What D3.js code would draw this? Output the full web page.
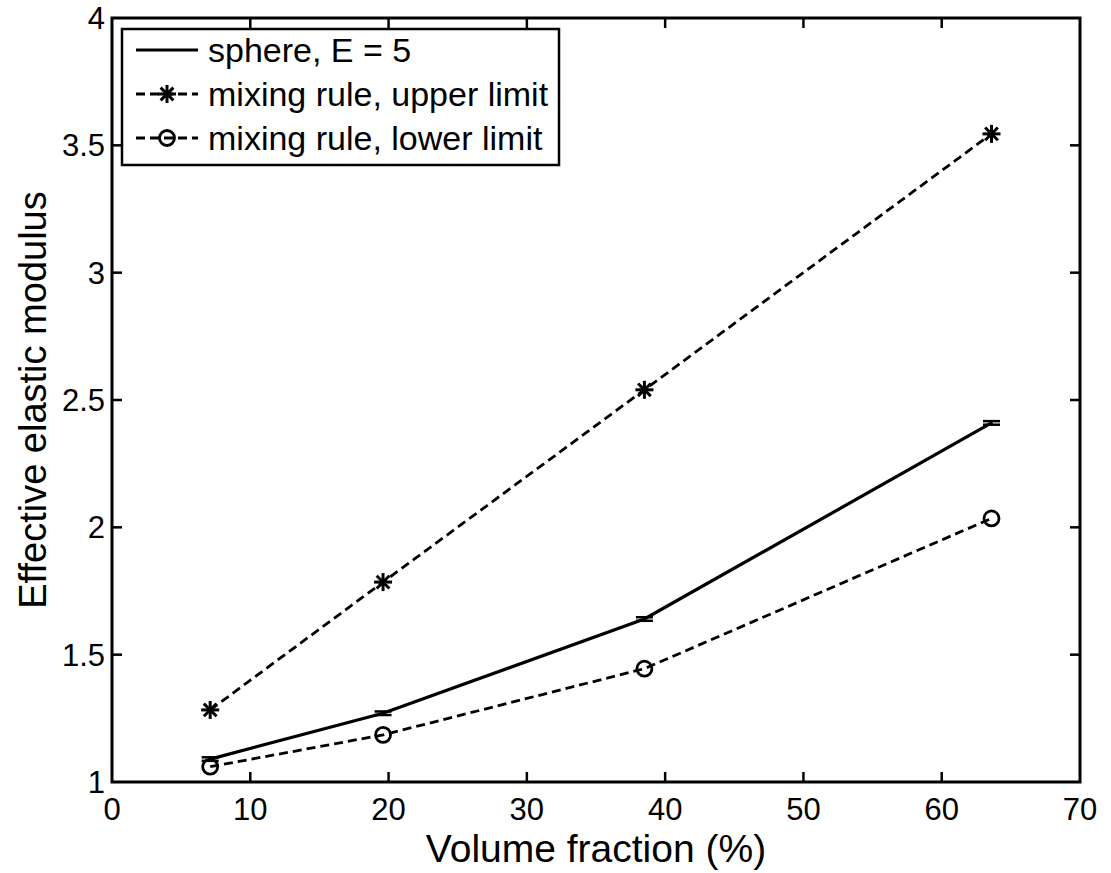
<!DOCTYPE html>
<html>
<head>
<meta charset="utf-8">
<script src="https://cdn.jsdelivr.net/npm/d3@7"></script>
<style>
  body { margin: 0; background: #fff; }
  text { font-family: "Liberation Sans", Arial, sans-serif; fill: #000; }
</style>
</head>
<body>
<svg id="chart" width="1111" height="873"></svg>
<script>
// Data
const volFrac = [7.1, 19.6, 38.5, 63.6];
const sphere = [1.09, 1.27, 1.64, 2.41];
const sphereErr = [0.007, 0.007, 0.007, 0.007];
const upper = [1.283, 1.785, 2.54, 3.545];
const lower = [1.06, 1.185, 1.445, 2.035];
const xTicks = [0, 10, 20, 30, 40, 50, 60, 70];
const yTicks = [1, 1.5, 2, 2.5, 3, 3.5, 4];
const legendLabels = ['sphere, E = 5', 'mixing rule, upper limit', 'mixing rule, lower limit'];

const svg = d3.select('#chart');
const pLeft = 112, pRight = 1080, pTop = 18, pBottom = 782;

const x = d3.scaleLinear().domain([0, 70]).range([pLeft, pRight]);
const y = d3.scaleLinear().domain([1, 4]).range([pBottom, pTop]);

const line = d3.line().x(d => x(d[0])).y(d => y(d[1]));

// Axes box
svg.append('rect')
  .attr('x', pLeft).attr('y', pTop)
  .attr('width', pRight - pLeft).attr('height', pBottom - pTop)
  .attr('fill', 'none').attr('stroke', '#000').attr('stroke-width', 3);

// Ticks (inside, on all sides)
const tl = 10;
xTicks.slice(1, -1).forEach(t => {
  svg.append('line').attr('x1', x(t)).attr('x2', x(t)).attr('y1', pBottom).attr('y2', pBottom - tl)
    .attr('stroke', '#000').attr('stroke-width', 2.5);
  svg.append('line').attr('x1', x(t)).attr('x2', x(t)).attr('y1', pTop).attr('y2', pTop + tl)
    .attr('stroke', '#000').attr('stroke-width', 2.5);
});
yTicks.slice(1, -1).forEach(t => {
  svg.append('line').attr('x1', pLeft).attr('x2', pLeft + tl).attr('y1', y(t)).attr('y2', y(t))
    .attr('stroke', '#000').attr('stroke-width', 2.5);
  svg.append('line').attr('x1', pRight).attr('x2', pRight - tl).attr('y1', y(t)).attr('y2', y(t))
    .attr('stroke', '#000').attr('stroke-width', 2.5);
});

// Tick labels
svg.selectAll('.xl').data(xTicks).enter().append('text')
  .attr('x', d => x(d)).attr('y', pBottom + 38)
  .attr('text-anchor', 'middle').attr('font-size', 31)
  .text(d => d);
svg.selectAll('.yl').data(yTicks).enter().append('text')
  .attr('x', pLeft - 7).attr('y', d => y(d) + 11)
  .attr('text-anchor', 'end').attr('font-size', 31)
  .text(d => d);

// Axis labels
svg.append('text').attr('x', (pLeft + pRight) / 2).attr('y', 862)
  .attr('text-anchor', 'middle').attr('font-size', 39)
  .text('Volume fraction (%)');
svg.append('text')
  .attr('transform', `translate(46,${(pTop + pBottom) / 2}) rotate(-90)`)
  .attr('text-anchor', 'middle').attr('font-size', 38)
  .text('Effective elastic modulus');

// Series
const sphereData = volFrac.map((v, i) => [v, sphere[i]]);
const upperData = volFrac.map((v, i) => [v, upper[i]]);
const lowerData = volFrac.map((v, i) => [v, lower[i]]);

svg.append('path').datum(upperData).attr('d', line)
  .attr('fill', 'none').attr('stroke', '#000').attr('stroke-width', 2.8)
  .attr('stroke-dasharray', '9,5');
svg.append('path').datum(lowerData).attr('d', line)
  .attr('fill', 'none').attr('stroke', '#000').attr('stroke-width', 2.8)
  .attr('stroke-dasharray', '9,5');
svg.append('path').datum(sphereData).attr('d', line)
  .attr('fill', 'none').attr('stroke', '#000').attr('stroke-width', 3.2);

// Error bars on sphere
sphereData.forEach((d, i) => {
  const cx = x(d[0]);
  const y0 = y(d[1] - sphereErr[i]), y1 = y(d[1] + sphereErr[i]);
  svg.append('line').attr('x1', cx).attr('x2', cx).attr('y1', y0).attr('y2', y1)
    .attr('stroke', '#000').attr('stroke-width', 2.5);
  [y0, y1].forEach(yy => {
    svg.append('line').attr('x1', cx - 8.5).attr('x2', cx + 8.5).attr('y1', yy).attr('y2', yy)
      .attr('stroke', '#000').attr('stroke-width', 2.5);
  });
});

// Markers
function star(g, cx, cy) {
  const r = 9;
  for (let k = 0; k < 4; k++) {
    const a = k * Math.PI / 4;
    g.append('line')
      .attr('x1', cx - r * Math.cos(a)).attr('y1', cy - r * Math.sin(a))
      .attr('x2', cx + r * Math.cos(a)).attr('y2', cy + r * Math.sin(a))
      .attr('stroke', '#000').attr('stroke-width', 3);
  }
}
function circ(g, cx, cy) {
  g.append('circle').attr('cx', cx).attr('cy', cy).attr('r', 7.5)
    .attr('fill', 'none').attr('stroke', '#000').attr('stroke-width', 2.8);
}
upperData.forEach(d => star(svg, x(d[0]), y(d[1])));
lowerData.forEach(d => circ(svg, x(d[0]), y(d[1])));

// Legend
const lg = svg.append('g');
lg.append('rect').attr('x', 122).attr('y', 29).attr('width', 437).attr('height', 136)
  .attr('fill', '#fff').attr('stroke', '#000').attr('stroke-width', 2.5);
const rowsY = [50, 94, 138];
legendLabels.forEach((lab, i) => {
  const yy = rowsY[i];
  const l = lg.append('line').attr('x1', 136).attr('x2', 198).attr('y1', yy).attr('y2', yy)
    .attr('stroke', '#000').attr('stroke-width', i === 0 ? 3.2 : 2.8);
  if (i > 0) l.attr('stroke-dasharray', '9,5');
  if (i === 1) star(lg, 167, yy);
  if (i === 2) circ(lg, 167, yy);
  lg.append('text').attr('x', 208).attr('y', yy + 12).attr('font-size', 34).text(lab);
});
</script>
</body>
</html>
